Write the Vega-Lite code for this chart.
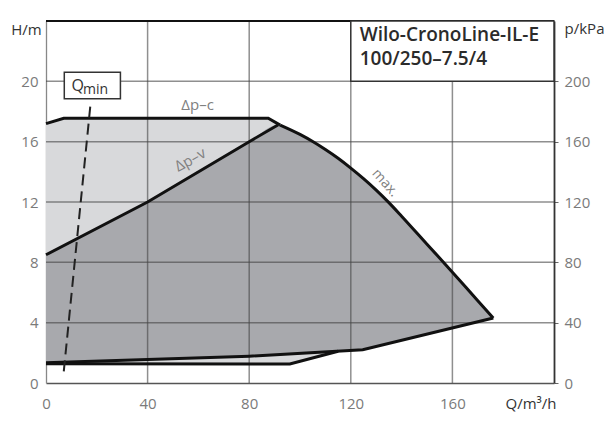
{
  "$schema": "https://vega.github.io/schema/vega-lite/v6.json",
  "width": 508,
  "height": 362,
  "autosize": "none",
  "padding": {"left": 46, "top": 21, "right": 60, "bottom": 44},
  "background": "white",
  "config": {
    "view": {"stroke": null},
    "font": "Open Sans",
    "axis": {"labelFont": "Open Sans", "titleFont": "Open Sans"}
  },
  "datasets": {
    "light": [
      {"q": 0, "h": 17.2, "h2": 1.28},
      {"q": 7, "h": 17.55, "h2": 1.28},
      {"q": 87.5, "h": 17.55, "h2": 1.26},
      {"q": 92.2, "h": 17.1, "h2": 1.26},
      {"q": 96, "h": 16.82, "h2": 1.26},
      {"q": 100, "h": 16.48, "h2": 1.43},
      {"q": 105, "h": 16.01, "h2": 1.64},
      {"q": 110, "h": 15.48, "h2": 1.86},
      {"q": 115, "h": 14.9, "h2": 2.1},
      {"q": 120, "h": 14.25, "h2": 2.16},
      {"q": 125, "h": 13.55, "h2": 2.21},
      {"q": 130, "h": 12.79, "h2": 2.42},
      {"q": 135, "h": 11.96, "h2": 2.62},
      {"q": 140, "h": 11.06, "h2": 2.83},
      {"q": 150, "h": 9.2, "h2": 3.24},
      {"q": 160, "h": 7.35, "h2": 3.65},
      {"q": 170, "h": 5.45, "h2": 4.06},
      {"q": 176.1, "h": 4.31, "h2": 4.31}
    ],
    "dark": [
      {"q": 0, "h": 8.5, "h2": 1.35},
      {"q": 40, "h": 12.0, "h2": 1.55},
      {"q": 80, "h": 16.0, "h2": 1.78},
      {"q": 91.3, "h": 17.1, "h2": 1.89},
      {"q": 96, "h": 16.82, "h2": 1.93},
      {"q": 100, "h": 16.48, "h2": 1.97},
      {"q": 105, "h": 16.01, "h2": 2.01},
      {"q": 110, "h": 15.48, "h2": 2.06},
      {"q": 115, "h": 14.9, "h2": 2.11},
      {"q": 120, "h": 14.25, "h2": 2.16},
      {"q": 125, "h": 13.55, "h2": 2.21},
      {"q": 130, "h": 12.79, "h2": 2.42},
      {"q": 135, "h": 11.96, "h2": 2.62},
      {"q": 140, "h": 11.06, "h2": 2.83},
      {"q": 150, "h": 9.2, "h2": 3.24},
      {"q": 160, "h": 7.35, "h2": 3.65},
      {"q": 170, "h": 5.45, "h2": 4.06},
      {"q": 176.1, "h": 4.31, "h2": 4.31}
    ],
    "lines": [
      {"s": "dpc", "q": 0, "h": 17.2},
      {"s": "dpc", "q": 7, "h": 17.55},
      {"s": "dpc", "q": 87.5, "h": 17.55},
      {"s": "dpc", "q": 92.2, "h": 17.1},
      {"s": "dpv", "q": 0, "h": 8.5},
      {"s": "dpv", "q": 40, "h": 12.0},
      {"s": "dpv", "q": 80, "h": 16.0},
      {"s": "dpv", "q": 91.3, "h": 17.1},
      {"s": "low", "q": 0, "h": 1.35},
      {"s": "low", "q": 40, "h": 1.55},
      {"s": "low", "q": 80, "h": 1.78},
      {"s": "low", "q": 124.7, "h": 2.2},
      {"s": "low", "q": 176.1, "h": 4.31},
      {"s": "min", "q": 0, "h": 1.28},
      {"s": "min", "q": 96, "h": 1.26},
      {"s": "min", "q": 115, "h": 2.1}
    ],
    "maxcurve": [
      {"q": 92.2, "h": 17.1},
      {"q": 100, "h": 16.48},
      {"q": 105, "h": 16.01},
      {"q": 110, "h": 15.48},
      {"q": 115, "h": 14.9},
      {"q": 120, "h": 14.25},
      {"q": 125, "h": 13.55},
      {"q": 130, "h": 12.79},
      {"q": 135, "h": 11.96},
      {"q": 140, "h": 11.06},
      {"q": 150, "h": 9.2},
      {"q": 160, "h": 7.35},
      {"q": 170, "h": 5.45},
      {"q": 176.1, "h": 4.31}
    ],
    "qmin": [
      {"q": 17.5, "h": 18.45},
      {"q": 7.0, "h": 0.77}
    ],
    "vgrid": [
      {"q": 40, "h": 0, "h2": 24},
      {"q": 80, "h": 0, "h2": 24},
      {"q": 120, "h": 0, "h2": 24},
      {"q": 160, "h": 0, "h2": 24}
    ],
    "hgrid": [
      {"h": 4, "q": 0, "q2": 200},
      {"h": 8, "q": 0, "q2": 200},
      {"h": 12, "q": 0, "q2": 200},
      {"h": 16, "q": 0, "q2": 200},
      {"h": 20, "q": 0, "q2": 200}
    ],
    "topline": [{"h": 24, "q": 0, "q2": 200}],
    "titlebox": [{"q": 120, "q2": 200, "h": 20, "h2": 24}],
    "qminbox": [{"q": 7.2, "q2": 29.3, "h": 18.85, "h2": 20.6}],
    "title": [
      {"q": 123.5, "h": 23.1, "label": "Wilo-CronoLine-IL-E"},
      {"q": 123.5, "h": 21.45, "label": "100/250–7.5/4"}
    ],
    "lab_dpc": [{"q": 59.7, "h": 18.45, "label": "Δp–c"}],
    "lab_dpv": [{"q": 56.8, "h": 14.8, "label": "Δp–v"}],
    "lab_max": [{"q": 133.5, "h": 13.26, "label": "max."}],
    "lab_q": [{"q": 12.5, "h": 19.67, "label": "Q"}],
    "lab_min": [{"q": 14.6, "h": 19.45, "label": "min"}]
  },
  "encoding": {
    "x": {
      "field": "q",
      "type": "quantitative",
      "scale": {"domain": [0, 200], "nice": false, "zero": false},
      "axis": {
        "values": [0, 40, 80, 120, 160],
        "grid": false,
        "ticks": false,
        "labelPadding": 13,
        "labelFontSize": 15,
        "labelColor": "#7a7a7a",
        "labelFlush": false,
        "domainColor": "#555",
        "domainWidth": 1.5,
        "title": "Q/m³/h",
        "titleX": 510,
        "titleY": 20,
        "titleAlign": "right",
        "titleBaseline": "middle",
        "titleFontSize": 15,
        "titleFontWeight": "normal",
        "titleColor": "#333"
      }
    },
    "y": {
      "field": "h",
      "type": "quantitative",
      "scale": {"domain": [0, 24], "nice": false, "zero": false},
      "axis": null
    }
  },
  "resolve": {"axis": {"y": "independent"}},
  "layer": [
    {
      "data": {"name": "light"},
      "mark": {"type": "area", "color": "#d8d9db", "interpolate": "monotone"},
      "encoding": {"y2": {"field": "h2"}}
    },
    {
      "data": {"name": "dark"},
      "mark": {"type": "area", "color": "#a8a9ad", "interpolate": "monotone"},
      "encoding": {"y2": {"field": "h2"}}
    },
    {
      "data": {"name": "vgrid"},
      "mark": {"type": "rule", "color": "#444", "opacity": 0.6, "strokeWidth": 1.5},
      "encoding": {
        "y": {
          "field": "h",
          "type": "quantitative",
          "scale": {"domain": [0, 24], "nice": false, "zero": false},
          "axis": {
            "orient": "right",
            "values": [0, 4, 8, 12, 16, 20],
            "labelExpr": "datum.value * 10",
            "grid": false,
            "ticks": true,
            "tickSize": 4,
            "tickColor": "#666",
            "labelPadding": 6,
            "labelFontSize": 15,
            "labelColor": "#7a7a7a",
            "labelFlush": false,
            "domainColor": "#333",
            "domainWidth": 1.8,
            "title": "p/kPa",
            "titleAngle": 0,
            "titleX": 30,
            "titleY": 7,
            "titleAlign": "center",
            "titleBaseline": "middle",
            "titleFontSize": 15,
            "titleFontWeight": "normal",
            "titleColor": "#333"
          }
        },
        "y2": {"field": "h2"}
      }
    },
    {
      "data": {"name": "hgrid"},
      "mark": {"type": "rule", "color": "#444", "opacity": 0.6, "strokeWidth": 1.5},
      "encoding": {
        "x2": {"field": "q2"},
        "y": {
          "field": "h",
          "type": "quantitative",
          "scale": {"domain": [0, 24], "nice": false, "zero": false},
          "axis": {
            "orient": "left",
            "values": [0, 4, 8, 12, 16, 20],
            "grid": false,
            "ticks": false,
            "labelPadding": 8,
            "labelFontSize": 15,
            "labelColor": "#7a7a7a",
            "labelFlush": false,
            "domainColor": "#888",
            "domainWidth": 1.3,
            "title": "H/m",
            "titleAngle": 0,
            "titleX": -20,
            "titleY": 8,
            "titleAlign": "center",
            "titleBaseline": "middle",
            "titleFontSize": 15,
            "titleFontWeight": "normal",
            "titleColor": "#333"
          }
        }
      }
    },
    {
      "data": {"name": "lines"},
      "mark": {"type": "line", "color": "#111", "strokeWidth": 3},
      "encoding": {"detail": {"field": "s"}}
    },
    {
      "data": {"name": "maxcurve"},
      "mark": {"type": "line", "color": "#111", "strokeWidth": 3, "interpolate": "monotone"},
      "encoding": {}
    },
    {
      "data": {"name": "qmin"},
      "mark": {"type": "line", "color": "#222", "strokeWidth": 2, "strokeDash": [11, 6]},
      "encoding": {}
    },
    {
      "data": {"name": "topline"},
      "mark": {"type": "rule", "color": "#111", "strokeWidth": 2},
      "encoding": {"x2": {"field": "q2"}}
    },
    {
      "data": {"name": "titlebox"},
      "mark": {"type": "rect", "fill": "white", "stroke": "#333", "strokeWidth": 1.5},
      "encoding": {"x2": {"field": "q2"}, "y2": {"field": "h2"}}
    },
    {
      "data": {"name": "qminbox"},
      "mark": {"type": "rect", "fill": "white", "stroke": "#333", "strokeWidth": 1.5},
      "encoding": {"x2": {"field": "q2"}, "y2": {"field": "h2"}}
    },
    {
      "data": {"name": "title"},
      "mark": {"type": "text", "align": "left", "baseline": "middle", "fontSize": 19, "fontWeight": 600, "color": "#2b2b2b", "font": "Open Sans"},
      "encoding": {"text": {"field": "label"}}
    },
    {
      "data": {"name": "lab_dpc"},
      "mark": {"type": "text", "align": "center", "baseline": "middle", "fontSize": 15, "color": "#808080"},
      "encoding": {"text": {"field": "label"}}
    },
    {
      "data": {"name": "lab_dpv"},
      "mark": {"type": "text", "align": "center", "baseline": "middle", "fontSize": 15, "color": "#808080", "angle": -29},
      "encoding": {"text": {"field": "label"}}
    },
    {
      "data": {"name": "lab_max"},
      "mark": {"type": "text", "align": "center", "baseline": "middle", "fontSize": 14, "color": "#808080", "angle": 48},
      "encoding": {"text": {"field": "label"}}
    },
    {
      "data": {"name": "lab_q"},
      "mark": {"type": "text", "align": "center", "baseline": "middle", "fontSize": 16, "color": "#333"},
      "encoding": {"text": {"field": "label"}}
    },
    {
      "data": {"name": "lab_min"},
      "mark": {"type": "text", "align": "left", "baseline": "middle", "fontSize": 14, "color": "#333"},
      "encoding": {"text": {"field": "label"}}
    }
  ]
}
